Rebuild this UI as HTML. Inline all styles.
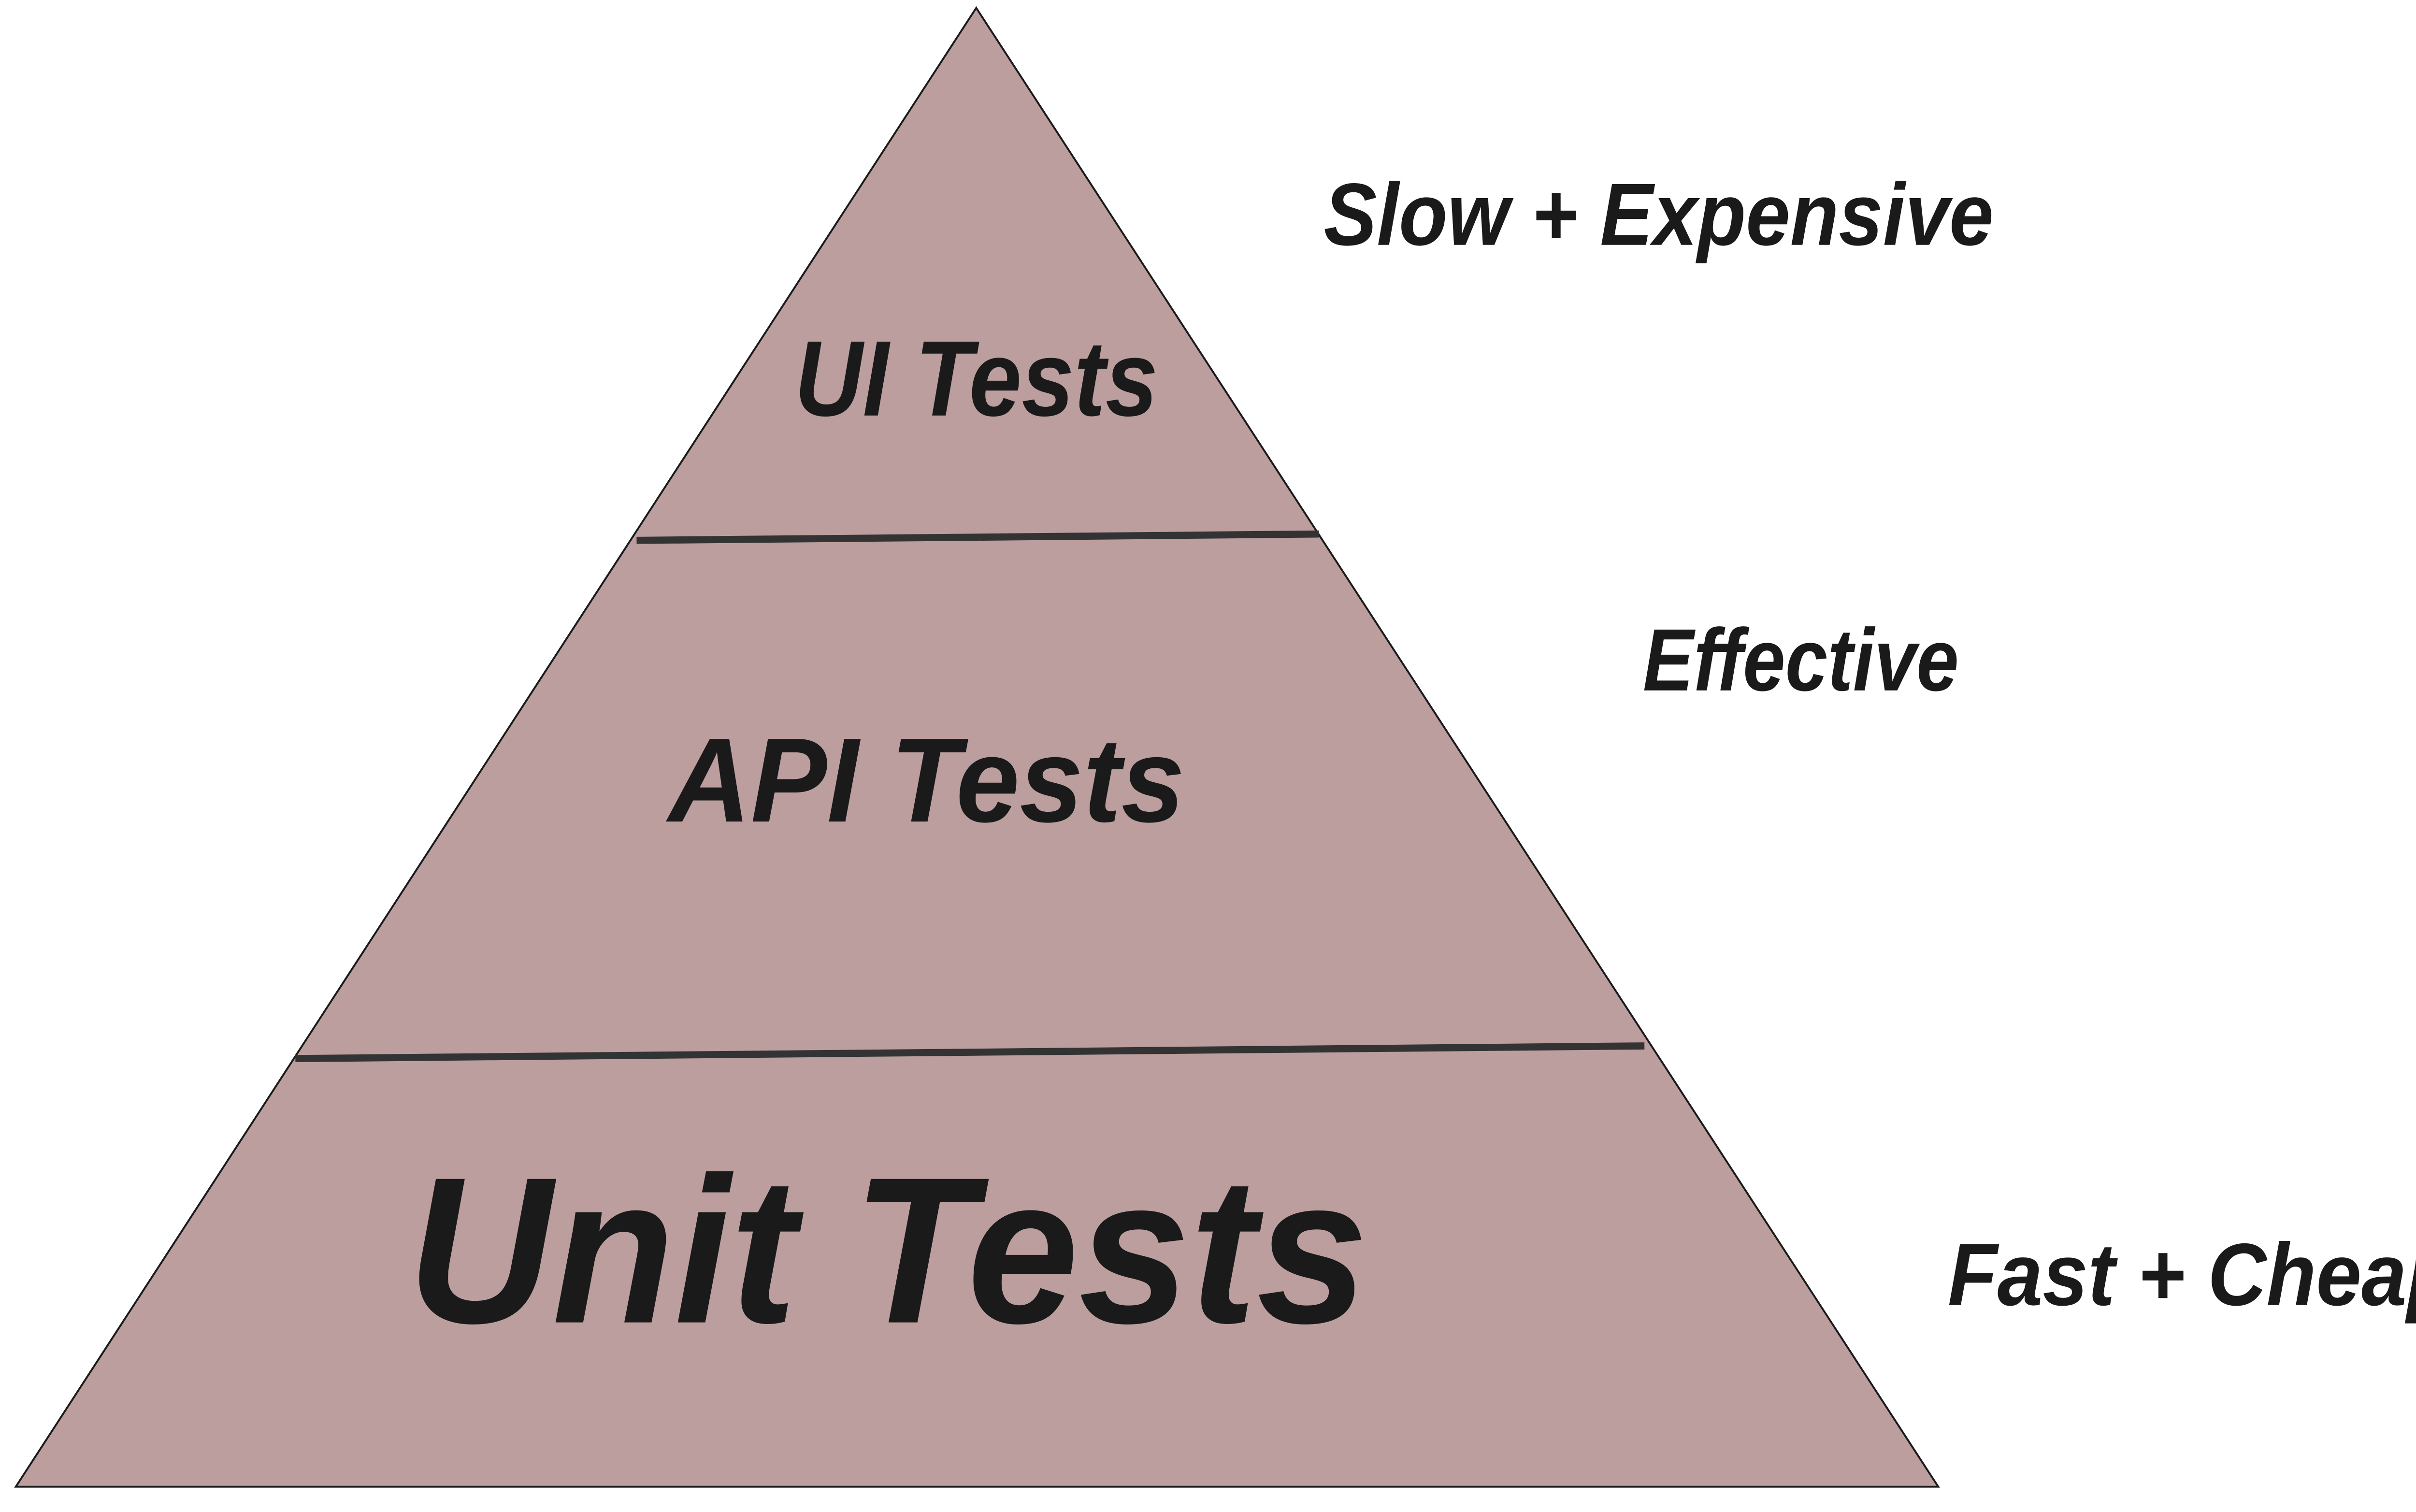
<!DOCTYPE html>
<html>
<head>
<meta charset="utf-8">
<style>
html,body{margin:0;padding:0;background:#fff;}
svg{display:block;}
text{font-family:"Liberation Sans",sans-serif;font-weight:bold;font-style:italic;fill:#1a1a1a;}
</style>
</head>
<body>
<svg width="5113" height="3129" viewBox="0 0 1564 957" preserveAspectRatio="none" xmlns="http://www.w3.org/2000/svg">
<rect width="1564" height="957" fill="#fff"/>
<polygon points="618,5 10,941 1227,941" fill="#bc9e9e" stroke="#1a1a1a" stroke-width="1.2"/>
<line x1="403" y1="342" x2="835" y2="338" stroke="#333" stroke-width="4.5"/>
<line x1="187" y1="670" x2="1041" y2="662" stroke="#333" stroke-width="4.5"/>
<text x="503" y="263" font-size="68" textLength="230" lengthAdjust="spacingAndGlyphs">UI Tests</text>
<text x="423" y="520" font-size="76" textLength="327" lengthAdjust="spacingAndGlyphs">API Tests</text>
<text x="258" y="837" font-size="132" textLength="608" lengthAdjust="spacingAndGlyphs">Unit Tests</text>
<text x="838" y="155" font-size="56" textLength="424" lengthAdjust="spacingAndGlyphs">Slow + Expensive</text>
<text x="1040" y="437" font-size="56" textLength="200" lengthAdjust="spacingAndGlyphs">Effective</text>
<text x="1233" y="826" font-size="56" textLength="322" lengthAdjust="spacingAndGlyphs">Fast + Cheap</text>
</svg>
</body>
</html>
